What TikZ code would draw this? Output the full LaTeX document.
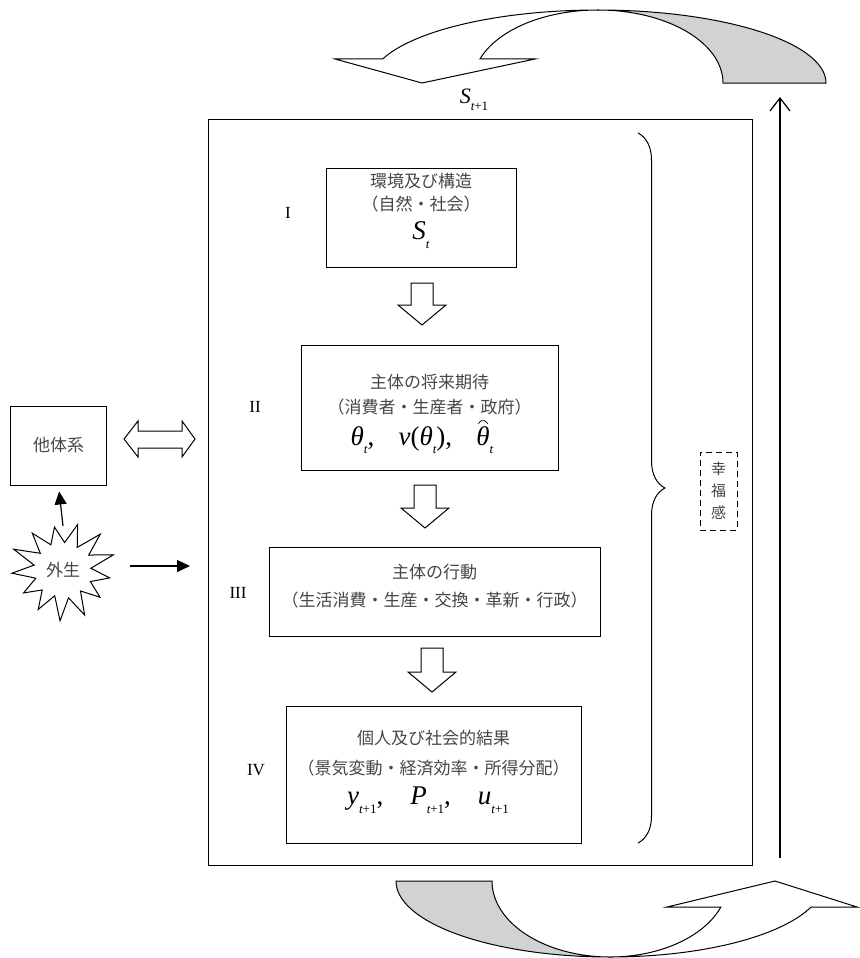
\documentclass[tikz,border=0pt]{standalone}
\usepackage{fontspec}
\setmainfont{Liberation Serif}
\newfontfamily\jp{Noto Sans CJK JP}
\usetikzlibrary{arrows.meta,decorations.pathreplacing}
\definecolor{band}{RGB}{209,210,212}
\definecolor{txt}{RGB}{70,70,70}
\newcommand\sbs[1]{\raisebox{-0.32em}{\fontsize{13}{13}\selectfont #1}}
\newcommand\arcacc[1]{\ooalign{#1\cr\hidewidth\raisebox{0.78em}{\tikz\draw[line width=0.7pt](0,0) arc[start angle=160,end angle=20,radius=5pt];}\hidewidth\cr}}
\newcommand\blockdown[3]{\draw[blk] (#1-11,#2) -- (#1+11,#2) -- (#1+11,#3-20) -- (#1+24,#3-20) -- (#1,#3) -- (#1-24,#3-20) -- (#1-11,#3-20) -- cycle;}
\begin{document}
\begin{tikzpicture}[x=1pt,y=-1pt,line join=miter,
  box/.style={draw, line width=1pt, inner sep=0pt},
  jt/.style={font=\jp\fontsize{17}{21}\selectfont, text=txt, inner sep=0pt},
  mt/.style={font=\fontsize{27}{28}\selectfont, inner sep=0pt},
  rn/.style={font=\fontsize{17}{20}\selectfont, inner sep=0pt},
  blk/.style={draw, line width=1pt, fill=white},
  conn/.style={line width=1.2pt, -{Triangle[length=13pt,width=12pt]}}]
\useasboundingbox (0,0) rectangle (859,958);

% top curved ribbon arrow
\draw[blk] plot[domain=160.8:90, samples=60, variable=\t] ({598+228*cos(\t)},{83-73*sin(\t)})
  -- plot[domain=90:160.8, samples=60, variable=\t] ({598+125*cos(\t)},{83-73*sin(\t)})
  -- (535,59) -- (422,83) -- (335,59) -- cycle;
\draw[blk, fill=band] plot[domain=90:0, samples=60, variable=\t] ({598+228*cos(\t)},{83-73*sin(\t)})
  -- (723,83) -- plot[domain=0:90, samples=60, variable=\t] ({598+125*cos(\t)},{83-73*sin(\t)}) -- cycle;
\node[font=\fontsize{22}{24}\selectfont, inner sep=0pt] (st1) at (474,100) {{\itshape S}\sbs{{\itshape t}+1}};

% bottom curved ribbon arrow
\draw[blk] plot[domain=90:20, samples=60, variable=\t] ({610+214*cos(\t)},{881+76*sin(\t)})
  -- (857,907) -- (775,881) -- (667,907)
  -- plot[domain=20:90, samples=60, variable=\t] ({610+118*cos(\t)},{881+76*sin(\t)}) -- cycle;
\draw[blk, fill=band] plot[domain=180:90, samples=60, variable=\t] ({610+214*cos(\t)},{881+76*sin(\t)})
  -- plot[domain=90:180, samples=60, variable=\t] ({610+118*cos(\t)},{881+76*sin(\t)}) -- cycle;

% main frame
\node[draw, line width=0.9pt, minimum width=544pt, minimum height=746pt] (frame) at (480,492) {};

% vertical return arrow
\coordinate (vb) at (780,858);
\coordinate (vt) at (780,97);
\draw[line width=1.2pt, -{Straight Barb[length=13pt,width=20pt,line width=1.2pt]}] (vb) -- (vt);

% boxes
\node[box, minimum width=190pt, minimum height=99pt] (b1) at (421,217.5) {};
\node[jt] at (421,181) {環境及び構造};
\node[jt] at (421,204) {（自然・社会）};
\node[mt] at (421,235) {{\itshape S}\sbs{\itshape t}};
\node[rn] (l1) at (288,213) {I};

\blockdown{422}{283}{325}

\node[box, minimum width=257pt, minimum height=125pt] (b2) at (429.5,407.5) {};
\node[jt] at (429.5,382) {主体の将来期待};
\node[jt] at (429.5,407) {（消費者・生産者・政府）};
\node[mt] at (422,440) {{\itshape θ}\sbs{\itshape t},\hspace{0.9em}{\itshape ν}({\itshape θ}\sbs{\itshape t}),\hspace{0.9em}\arcacc{\itshape θ}\sbs{\itshape t}};
\node[rn] (l2) at (255,407) {II};

\blockdown{425}{485}{528}

\node[box, minimum width=331pt, minimum height=89pt] (b3) at (434.5,591.5) {};
\node[jt] at (434.5,572) {主体の行動};
\node[jt] at (434.5,600) {（生活消費・生産・交換・革新・行政）};
\node[rn] (l3) at (238,593) {III};

\blockdown{432}{648}{692}

\node[box, minimum width=295pt, minimum height=137pt] (b4) at (433.5,774.5) {};
\node[jt] at (433.5,738) {個人及び社会的結果};
\node[jt] at (433.5,768) {（景気変動・経済効率・所得分配）};
\node[mt] at (428,800) {{\itshape y}\sbs{{\itshape t}+1},\hspace{1em}{\itshape P}\sbs{{\itshape t}+1},\hspace{1em}{\itshape u}\sbs{{\itshape t}+1}};
\node[rn] (l4) at (256,770) {IV};

% brace and happiness box
\draw[line width=1pt, decorate, decoration={brace, amplitude=27pt, aspect=0.5}] (638,133) -- (638,843);
\node[draw, dashed, line width=1pt, dash pattern=on 6pt off 4pt, minimum width=37pt, minimum height=78pt] (hap) at (718.5,491) {};
\node[jt, font=\jp\fontsize{15}{22}\selectfont, align=center] at (hap) {幸\\福\\感};

% left side
\node[box, minimum width=96pt, minimum height=79pt] (tb) at (58.5,445.5) {};
\node[jt] at (tb) {他体系};
\draw[blk] (124,439) -- (138,421) -- (138,431) -- (182,431) -- (182,421) -- (195,439) -- (182,457) -- (182,448) -- (138,448) -- (138,457) -- cycle;

\draw[blk] plot[samples at={0,...,25}, variable=\i] ({63+(iseven(\i)?(50+4*sin(137*\i)):(29+3*cos(91*\i)))*cos(\i*360/26+73)}, {570-0.95*(iseven(\i)?(50+4*sin(137*\i)):(29+3*cos(91*\i)))*sin(\i*360/26+73)}) -- cycle;
\node[jt] (gai) at (63,570) {外生};
\coordinate (su) at (63,526);
\draw[conn, shorten >=6pt] (su) -- (tb.south);
\coordinate (ra) at (130,566);
\coordinate (rb) at (190,566);
\draw[conn] (ra) -- (rb);
\end{tikzpicture}
\end{document}
